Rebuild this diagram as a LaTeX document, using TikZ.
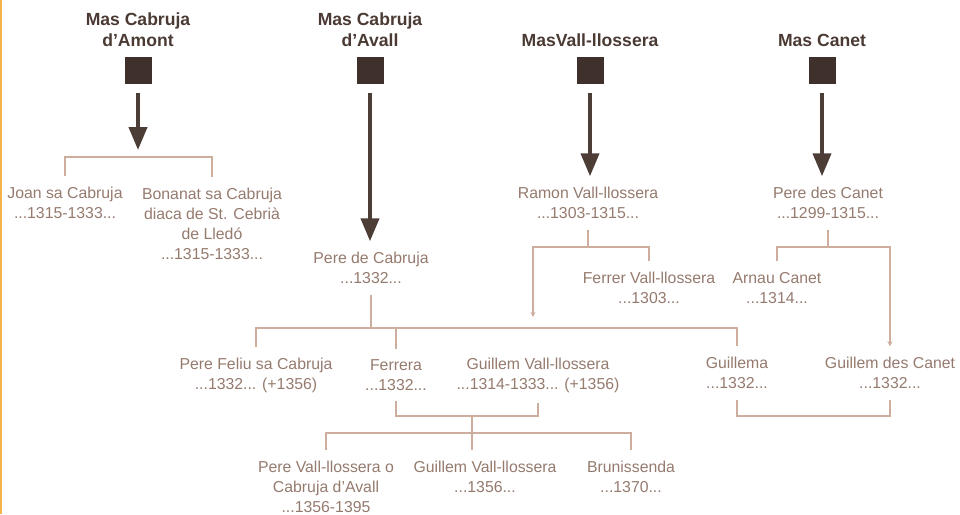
\documentclass[tikz,border=0pt]{standalone}
\usepackage{fontspec}
\setmainfont{Liberation Sans}
\usetikzlibrary{arrows.meta}
\definecolor{titlebrown}{HTML}{4A3A33}
\definecolor{textbrown}{HTML}{957A6E}
\definecolor{squarebrown}{HTML}{3F302B}
\definecolor{arrowbrown}{HTML}{4D3D37}
\definecolor{linebrown}{HTML}{CDAE9E}
\definecolor{borderorange}{HTML}{F5B14A}
\begin{document}
\begin{tikzpicture}[x=0.2mm,y=-0.2mm,
    house/.style={font=\bfseries\fontsize{10}{12}\selectfont,text=titlebrown,align=center,anchor=south,inner sep=0pt},
    mas/.style={fill=squarebrown,minimum width=5.4mm,minimum height=5.4mm,inner sep=0pt},
    person/.style={font=\fontsize{9}{11.4}\selectfont,text=textbrown,align=center,inner xsep=2pt,inner ysep=6pt},
    descent/.style={draw=arrowbrown,line width=0.8mm,shorten <=1.8mm,-{Triangle[width=3.6mm,length=4.6mm]}},
    link/.style={draw=linebrown,line width=0.3mm},
    tolink/.style={link,-{Stealth[length=1mm,width=1mm]}}]
    \useasboundingbox (0,0) rectangle (960,514);
    \draw[draw=borderorange,line width=0.4mm] (1,0) -- (1,514);
    \foreach \x/\n/\t in {138/amont/{Mas Cabruja\\d'Amont},370/avall/{Mas Cabruja\\d'Avall},590/vall/{MasVall-llossera},822/canet/{Mas Canet}} {
        \node[house] (t\n) at (\x,47) {\t};
        \node[mas] (sq\n) at (\x,70) {};
    }
    \node[person] (joan) at (65,203) {Joan sa Cabruja\\...1315-1333...};
    \node[person] (bonanat) at (212,224) {Bonanat sa Cabruja\\diaca de St. Cebrià\\de Lledó\\...1315-1333...};
    \node[person] (pere) at (371,268) {Pere de Cabruja\\...1332...};
    \node[person] (ramon) at (588,203) {Ramon Vall-llossera\\...1303-1315...};
    \node[person] (ferrer) at (649,288) {Ferrer Vall-llossera\\...1303...};
    \node[person] (peredes) at (828,203) {Pere des Canet\\...1299-1315...};
    \node[person] (arnau) at (777,288) {Arnau Canet\\...1314...};
    \node[person] (feliu) at (256,375) {Pere Feliu sa Cabruja\\...1332... (+1356)};
    \node[person] (ferrera) at (396,375) {Ferrera\\...1332...};
    \node[person] (guillem) at (538,375) {Guillem Vall-llossera\\...1314-1333... (+1356)};
    \node[person] (guillema) at (737,373) {Guillema\\...1332...};
    \node[person] (gcanet) at (890,373) {Guillem des Canet\\...1332...};
    \node[person] (perevall) at (326,487) {Pere Vall-llossera o\\Cabruja d'Avall\\...1356-1395};
    \node[person] (guillemv) at (485,477) {Guillem Vall-llossera\\...1356...};
    \node[person] (brunissenda) at (631,477) {Brunissenda\\...1370...};
    \coordinate (amontbar) at (138,157);
    \coordinate (avallbar) at (370,328);
    \coordinate (vallbar) at (588,247);
    \coordinate (vallin) at (533,317);
    \coordinate (canetbar) at (828,247);
    \coordinate (wedone) at (472,416);
    \coordinate (kidsbar) at (472,433);
    \coordinate (wedtwo) at (815,416);
    \draw[descent,shorten >=1.4mm] (sqamont.south) -- (amontbar);
    \draw[descent] (sqavall.south) -- (sqavall.south |- pere.north);
    \draw[descent] (sqvall.south) -- (sqvall.south |- ramon.north);
    \draw[descent] (sqcanet.south) -- (sqcanet.south |- peredes.north);
    \draw[link] (joan.north) -- (joan.north |- amontbar) -- (bonanat.north |- amontbar) -- (bonanat.north);
    \draw[link] (pere.south) -- (pere.south |- avallbar);
    \draw[link] (feliu.north) -- (feliu.north |- avallbar) -| (guillema.north);
    \draw[link] (ferrera.north) -- (ferrera.north |- avallbar);
    \draw[link] (ramon.south) -- (ramon.south |- vallbar);
    \draw[tolink] (ferrer.north) -- (ferrer.north |- vallbar) -| (vallin);
    \draw[link] (peredes.south) -- (peredes.south |- canetbar);
    \draw[tolink] (arnau.north) -- (arnau.north |- canetbar) -| (gcanet.north);
    \draw[link] (ferrera.south) -- (ferrera.south |- wedone) -- (guillem.south |- wedone) -- (guillem.south);
    \draw[link] (wedone) -- (wedone |- guillemv.north);
    \draw[link] (perevall.north) -- (perevall.north |- kidsbar) -- (brunissenda.north |- kidsbar) -- (brunissenda.north);
    \draw[link] (guillema.south) -- (guillema.south |- wedtwo) -- (gcanet.south |- wedtwo) -- (gcanet.south);
\end{tikzpicture}
\end{document}
